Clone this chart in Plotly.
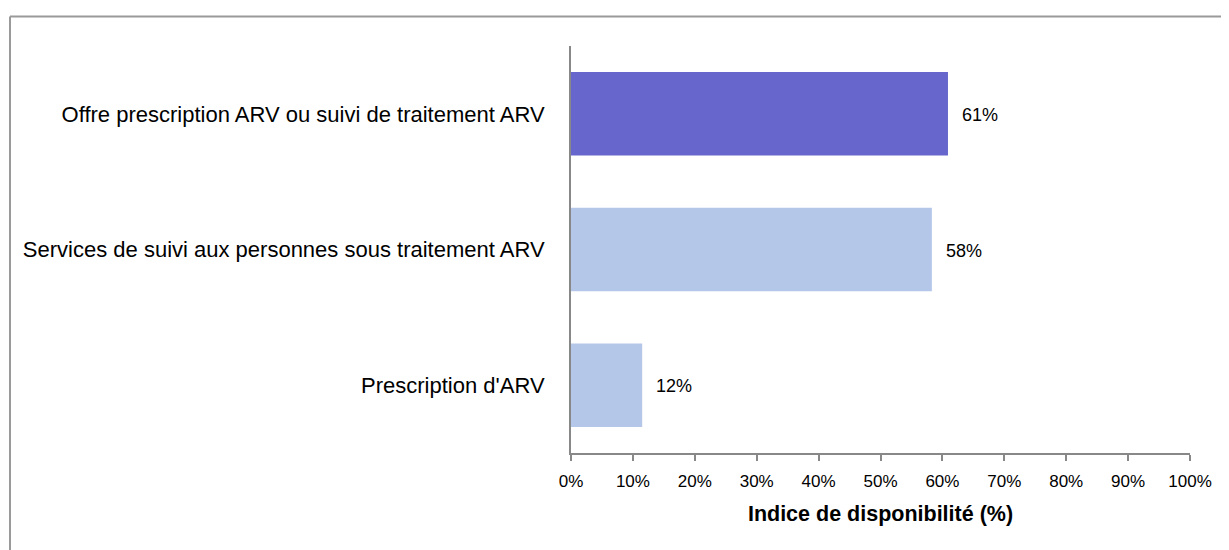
import plotly.graph_objects as go

categories = [
    "Offre prescription ARV ou suivi de traitement ARV",
    "Services de suivi aux personnes sous traitement ARV",
    "Prescription d'ARV",
]
values = [60.9, 58.3, 11.5]
value_labels = ["61%", "58%", "12%"]
bar_colors = ["#6666CC", "#B4C7E9", "#B4C7E9"]
tick_values = [0, 10, 20, 30, 40, 50, 60, 70, 80, 90, 100]
tick_labels = ["0%", "10%", "20%", "30%", "40%", "50%", "60%", "70%", "80%", "90%", "100%"]
x_title = "Indice de disponibilité (%)"

# page offset of the figure (default body margin) is 8 px
OFF = 8
W, H = 1229, 550
ml = 571 - OFF
mt = 46 - OFF
mr = W - (1190 - OFF)
mb = H - (453 - OFF)
pw = W - ml - mr
ph = H - mt - mb

FONT = "Liberation Sans, Arial"

fig = go.Figure()
fig.add_trace(go.Bar(
    x=values, y=categories, orientation="h",
    marker=dict(color=bar_colors, line=dict(width=0)),
    hoverinfo="skip",
))

for v, c, t in zip(values, categories, value_labels):
    fig.add_annotation(x=v, y=c, text=t, showarrow=False, xanchor="left",
                       xshift=12, yshift=-1, font=dict(family=FONT, size=18, color="#000000"))

# outer frame
fx = ((10 - OFF) - ml) / pw
fy = (H - mb - (16.5 - OFF)) / ph
fig.add_shape(type="line", xref="paper", yref="paper", x0=fx, x1=fx, y0=-0.5, y1=fy,
              line=dict(color="#9a9a9a", width=2))
fig.add_shape(type="line", xref="paper", yref="paper", x0=fx, x1=1.2, y0=fy, y1=fy,
              line=dict(color="#9a9a9a", width=2))

fig.update_layout(
    width=W, height=H,
    margin=dict(l=ml, r=mr, t=mt, b=mb, pad=0),
    plot_bgcolor="white", paper_bgcolor="white",
    bargap=0.385, showlegend=False,
    font=dict(family=FONT, color="#000000"),
)
fig.update_xaxes(
    range=[0, 100], tickvals=tick_values, ticktext=tick_labels,
    showgrid=False, zeroline=False, showline=True, linecolor="#888888", linewidth=2,
    ticks="outside", ticklen=6, tickcolor="#888888", tickwidth=2,
    tickfont=dict(size=17, family=FONT), ticklabelstandoff=6,
    title=dict(text=x_title, font=dict(size=21.5, family=FONT, weight="bold"), standoff=16),
)
fig.update_yaxes(
    categoryorder="array", categoryarray=categories[::-1],
    showgrid=False, zeroline=False, showline=True, linecolor="#888888", linewidth=2,
    ticks="", tickfont=dict(size=22, family=FONT),
    ticklabelstandoff=20,
)

fig.write_html("out.html")
